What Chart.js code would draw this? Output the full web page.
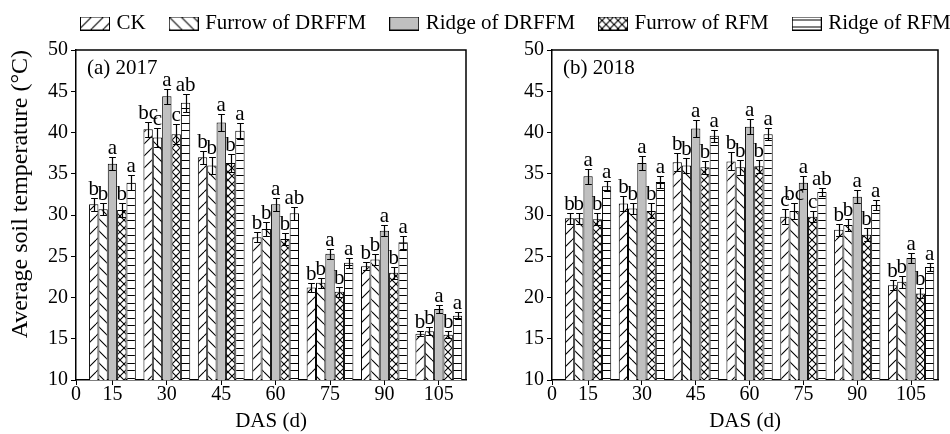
<!DOCTYPE html>
<html>
<head>
<meta charset="utf-8">
<script src="https://cdn.jsdelivr.net/npm/chart.js@4.4.1/dist/chart.umd.min.js"></script>
<style>
  html, body { margin: 0; padding: 0; background: #fff; overflow: hidden; width: 950px; height: 434px; }
  #fig { position: relative; width: 950px; height: 434px; overflow: hidden; }
  canvas { position: absolute; }
</style>
</head>
<body>
<div id="fig">
  <canvas id="panel2017" width="476" height="434" style="left:0;top:0"></canvas>
  <canvas id="panel2018" width="474" height="434" style="left:476px;top:0"></canvas>
  <canvas id="legendStrip" width="1100" height="100" style="left:0;top:-14px"></canvas>
</div>
<script>
// ---- data -------------------------------------------------------------
const treatments = ['CK', 'Furrow of DRFFM', 'Ridge of DRFFM', 'Furrow of RFM', 'Ridge of RFM'];
const dasTickLabels = ['0', '15', '30', '45', '60', '75', '90', '105'];

// 2017: mean soil temperature (°C) at DAS 15 ... 105
const ck2017          = [31.3, 40.4, 37.0, 27.3, 21.2, 23.8, 15.6];
const furrowDRFFM2017 = [30.7, 39.4, 36.0, 28.3, 21.8, 24.6, 15.9];
const ridgeDRFFM2017  = [36.2, 44.4, 41.2, 31.3, 25.3, 28.1, 18.6];
const furrowRFM2017   = [30.6, 39.8, 36.3, 27.1, 20.7, 23.0, 15.5];
const ridgeRFM2017    = [33.9, 43.6, 40.2, 30.2, 24.2, 26.7, 17.8];

const ckErr2017          = [0.8, 0.9, 0.8, 0.6, 0.5, 0.5, 0.3];
const furrowDRFFMErr2017 = [0.7, 1.1, 1.0, 0.8, 0.6, 0.7, 0.5];
const ridgeDRFFMErr2017  = [0.8, 0.9, 1.0, 0.8, 0.6, 0.7, 0.5];
const furrowRFMErr2017   = [0.8, 1.2, 1.1, 0.7, 0.6, 0.7, 0.4];
const ridgeRFMErr2017    = [0.9, 1.1, 1.0, 0.8, 0.6, 0.8, 0.4];

const ckSig2017          = ['b', 'bc', 'b', 'b', 'b', 'b', 'b'];
const furrowDRFFMSig2017 = ['b', 'c', 'b', 'b', 'b', 'b', 'b'];
const ridgeDRFFMSig2017  = ['a', 'a', 'a', 'a', 'a', 'a', 'a'];
const furrowRFMSig2017   = ['b', 'c', 'b', 'b', 'b', 'b', 'b'];
const ridgeRFMSig2017    = ['a', 'ab', 'a', 'ab', 'a', 'a', 'a'];

// 2018
const ck2018          = [29.6, 31.4, 36.4, 36.5, 29.8, 28.2, 21.5];
const furrowDRFFM2018 = [29.6, 30.8, 36.0, 35.8, 30.5, 28.8, 21.9];
const ridgeDRFFM2018  = [34.7, 36.3, 40.5, 40.7, 33.9, 32.2, 24.8];
const furrowRFM2018   = [29.5, 30.5, 35.8, 35.9, 29.8, 27.6, 20.5];
const ridgeRFM2018    = [33.5, 34.0, 39.6, 39.8, 32.8, 31.2, 23.7];

const ckErr2018          = [0.7, 0.9, 1.1, 1.1, 0.9, 0.7, 0.6];
const furrowDRFFMErr2018 = [0.7, 0.7, 0.9, 0.9, 1.0, 0.7, 0.7];
const ridgeDRFFMErr2018  = [0.9, 0.8, 1.0, 0.9, 0.8, 0.8, 0.6];
const furrowRFMErr2018   = [0.7, 0.9, 0.8, 0.8, 0.7, 0.8, 0.6];
const ridgeRFMErr2018    = [0.6, 0.7, 0.7, 0.7, 0.5, 0.6, 0.5];

const ckSig2018          = ['b', 'b', 'b', 'b', 'c', 'b', 'b'];
const furrowDRFFMSig2018 = ['b', 'b', 'b', 'b', 'bc', 'b', 'b'];
const ridgeDRFFMSig2018  = ['a', 'a', 'a', 'a', 'a', 'a', 'a'];
const furrowRFMSig2018   = ['b', 'b', 'b', 'b', 'c', 'b', 'b'];
const ridgeRFMSig2018    = ['a', 'a', 'a', 'a', 'ab', 'a', 'a'];

// ---- styling helpers --------------------------------------------------
const SERIF = "'Liberation Serif', 'Times New Roman', serif";
Chart.defaults.font.family = SERIF;
Chart.defaults.color = '#000';

function makeTile(w, h, draw) {
  const c = document.createElement('canvas');
  c.width = w; c.height = h;
  const g = c.getContext('2d');
  g.fillStyle = '#fff';
  g.fillRect(0, 0, w, h);
  g.strokeStyle = '#000';
  g.lineWidth = 1.1;
  draw(g, w, h);
  return c;
}
function slashes(g, w, h, dir) {
  g.beginPath();
  for (let k = -1; k <= 1; k++) {
    if (dir > 0) { g.moveTo(k * w, h); g.lineTo(k * w + w, 0); }
    else { g.moveTo(k * w, 0); g.lineTo(k * w + w, h); }
  }
  g.stroke();
}
const tiles = [
  makeTile(12, 12, (g, w, h) => slashes(g, w, h, 1)),
  makeTile(12, 12, (g, w, h) => slashes(g, w, h, -1)),
  null,
  makeTile(8, 8, (g, w, h) => { slashes(g, w, h, 1); slashes(g, w, h, -1); }),
  makeTile(4, 15, (g, w, h) => { g.beginPath(); g.moveTo(0, 3.5); g.lineTo(w, 3.5); g.moveTo(0, 10.5); g.lineTo(w, 10.5); g.stroke(); })
];
const scratch = document.createElement('canvas').getContext('2d');
const fills = tiles.map(t => t ? scratch.createPattern(t, 'repeat') : '#c0c0c0');

// legend swatches: a small box filled like the bars
const swatches = fills.map(f => {
  const c = document.createElement('canvas');
  c.width = 30; c.height = 14;
  const g = c.getContext('2d');
  g.fillStyle = f;
  g.fillRect(0, 0, 30, 14);
  g.strokeStyle = '#000';
  g.lineWidth = 1;
  g.strokeRect(0.5, 0.5, 29, 13);
  return c;
});

// ---- plugins ------------------------------------------------------------
const errorBars = {
  id: 'errorBars',
  afterDatasetsDraw(chart) {
    const { ctx } = chart;
    const yScale = chart.scales.y;
    ctx.save();
    ctx.strokeStyle = '#000';
    ctx.lineWidth = 1.2;
    ctx.fillStyle = '#000';
    ctx.font = '21px ' + SERIF;
    ctx.textAlign = 'center';
    ctx.textBaseline = 'alphabetic';
    chart.data.datasets.forEach((ds, di) => {
      const meta = chart.getDatasetMeta(di);
      meta.data.forEach((bar, i) => {
        const v = ds.data[i].y, e = ds.errors[i];
        const yTop = Math.round(yScale.getPixelForValue(v + e)) + 0.5;
        const yBot = Math.round(yScale.getPixelForValue(v - e)) + 0.5;
        const x = Math.round(bar.x) + 0.5;
        const half = bar.width * 0.36;
        ctx.beginPath();
        ctx.moveTo(x, yTop); ctx.lineTo(x, yBot);
        ctx.moveTo(x - half, yTop); ctx.lineTo(x + half, yTop);
        ctx.moveTo(x - half, yBot); ctx.lineTo(x + half, yBot);
        ctx.stroke();
        ctx.fillText(ds.letters[i], bar.x, yTop - 4);
      });
    });
    ctx.restore();
  }
};

const panelFrame = {
  id: 'panelFrame',
  afterDatasetsDraw(chart, args, opts) {
    const { ctx, chartArea: a } = chart;
    ctx.save();
    ctx.strokeStyle = '#000';
    ctx.lineWidth = 1.5;
    ctx.beginPath();
    ctx.moveTo(a.left, a.top); ctx.lineTo(a.right, a.top); ctx.lineTo(a.right, a.bottom);
    ctx.stroke();
    ctx.fillStyle = '#000';
    ctx.font = '21px ' + SERIF;
    ctx.textAlign = 'left';
    ctx.textBaseline = 'alphabetic';
    ctx.fillText(opts.text, a.left + 11, a.top + 24);
    ctx.restore();
  }
};

// ---- panels ---------------------------------------------------------------
const AXIS_START = 0.33;   // where the "0" tick sits before the first group
const AXIS_END = 7.5;
// the bar ruler measures the narrow 0 -> 15 tick gap, so widen the group share to fill ~86% of a full DAS step
const GROUP_SHARE = 0.86 / (1 - AXIS_START);

function buildPanel(canvasId, panelText, rightPad, means, errs, sigs, showYTitle) {
  const datasets = treatments.map((name, k) => ({
    label: name,
    data: means[k].map((m, i) => ({ x: i + 1, y: m })),
    errors: errs[k],
    letters: sigs[k],
    backgroundColor: fills[k],
    borderColor: '#000',
    borderWidth: 1,
    borderSkipped: 'bottom',
    categoryPercentage: GROUP_SHARE,
    barPercentage: 1
  }));
  return new Chart(document.getElementById(canvasId), {
    type: 'bar',
    data: { datasets },
    plugins: [errorBars, panelFrame],
    options: {
      responsive: false,
      animation: false,
      events: [],
      devicePixelRatio: 1,
      layout: { padding: { top: 50, right: rightPad, left: 0, bottom: 0 } },
      plugins: {
        legend: { display: false },
        tooltip: { enabled: false },
        panelFrame: { text: panelText }
      },
      scales: {
        x: {
          type: 'linear',
          min: AXIS_START,
          max: AXIS_END,
          offset: false,
          afterBuildTicks: s => { s.ticks = dasTickLabels.map((_, i) => ({ value: i === 0 ? AXIS_START : i })); },
          afterFit: s => { s.height = 54; },
          ticks: {
            autoSkip: false, maxRotation: 0, padding: -2,
            font: { size: 20, family: SERIF }, color: '#000',
            callback: (v, i) => dasTickLabels[i]
          },
          grid: { display: true, offset: false, drawOnChartArea: false, tickLength: 5, color: '#000', lineWidth: 1 },
          border: { display: true, color: '#000', width: 1.5 },
          title: { display: true, text: 'DAS (d)', color: '#000', font: { size: 21, family: SERIF }, padding: { top: 0, bottom: 0 } }
        },
        y: {
          min: 10,
          max: 50,
          afterFit: s => { s.width = 76; },
          ticks: { stepSize: 5, padding: 3, font: { size: 20, family: SERIF }, color: '#000' },
          grid: { drawOnChartArea: false, tickLength: 5, color: '#000', lineWidth: 1 },
          border: { display: true, color: '#000', width: 1.5 },
          title: {
            display: showYTitle, text: 'Average soil temperature (°C)', color: '#000', align: 'end',
            font: { size: 24, family: SERIF }, padding: { top: 6, bottom: 0 }
          }
        }
      }
    }
  });
}

buildPanel('panel2017', '(a) 2017', 10,
  [ck2017, furrowDRFFM2017, ridgeDRFFM2017, furrowRFM2017, ridgeRFM2017],
  [ckErr2017, furrowDRFFMErr2017, ridgeDRFFMErr2017, furrowRFMErr2017, ridgeRFMErr2017],
  [ckSig2017, furrowDRFFMSig2017, ridgeDRFFMSig2017, furrowRFMSig2017, ridgeRFMSig2017],
  true);

buildPanel('panel2018', '(b) 2018', 12,
  [ck2018, furrowDRFFM2018, ridgeDRFFM2018, furrowRFM2018, ridgeRFM2018],
  [ckErr2018, furrowDRFFMErr2018, ridgeDRFFMErr2018, furrowRFMErr2018, ridgeRFMErr2018],
  [ckSig2018, furrowDRFFMSig2018, ridgeDRFFMSig2018, furrowRFMSig2018, ridgeRFMSig2018],
  false);

// ---- shared legend across both panels --------------------------------------
new Chart(document.getElementById('legendStrip'), {
  type: 'bar',
  data: { datasets: treatments.map((name, k) => ({ label: name, data: [], backgroundColor: fills[k] })) },
  options: {
    responsive: false,
    animation: false,
    events: [],
    devicePixelRatio: 1,
    layout: { padding: { left: 57 } },
    scales: { x: { display: false }, y: { display: false } },
    plugins: {
      tooltip: { enabled: false },
      legend: {
        display: true,
        position: 'top',
        align: 'start',
        labels: {
          usePointStyle: true,
          pointStyleWidth: 22,
          boxHeight: 14,
          padding: 27,
          color: '#000',
          font: { size: 21, family: SERIF },
          generateLabels: chart => chart.data.datasets.map((d, i) => ({
            text: d.label,
            pointStyle: swatches[i],
            fillStyle: '#fff',
            strokeStyle: '#000',
            lineWidth: 0,
            hidden: false,
            datasetIndex: i
          }))
        }
      }
    }
  }
});
</script>
</body>
</html>
